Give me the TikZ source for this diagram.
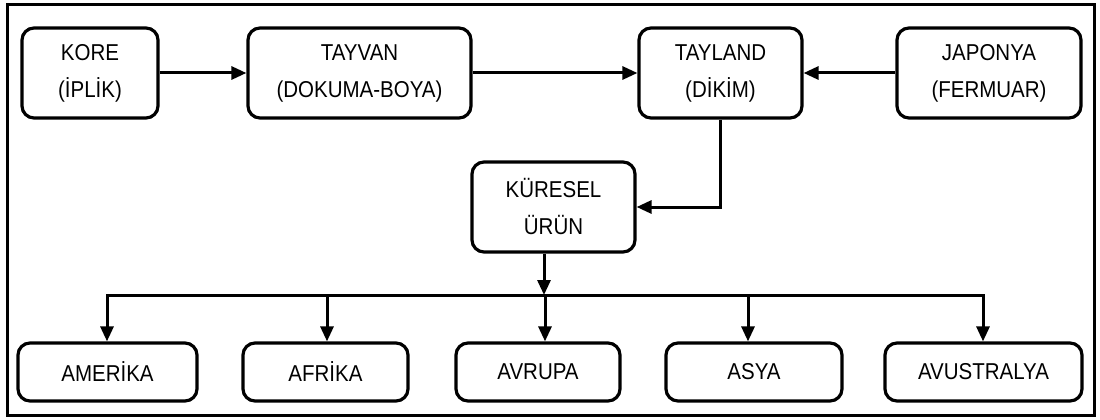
\documentclass[tikz,border=0pt]{standalone}
\usepackage{fontspec}
\usepackage{graphicx}
\setmainfont{Liberation Sans}
\usetikzlibrary{arrows.meta,calc}
\newcommand\tx[1]{\scalebox{1}[1.12]{#1}}
\begin{document}
\begin{tikzpicture}[x=1pt,y=-1pt,
  box/.style={draw,line width=3.2pt,rounded corners=12pt,align=center,inner sep=0pt,
    font=\fontsize{20.5}{37}\selectfont},
  conn/.style={line width=3pt},
  arr/.style={conn,-{Triangle[length=15pt,width=13pt]}}]
\useasboundingbox (0,0) rectangle (1100,420);
\draw[line width=3pt] (7,5) rectangle (1094,415);
% top row
\node[box,minimum width=136pt,minimum height=90pt] (kore) at (90,73) {\tx{KORE}\\\tx{(İPLİK)}};
\node[box,minimum width=223pt,minimum height=90pt] (tayvan) at (359.5,73) {\tx{TAYVAN}\\\tx{(DOKUMA-BOYA)}};
\node[box,minimum width=163pt,minimum height=90pt] (tayland) at (720.5,73) {\tx{TAYLAND}\\\tx{(DİKİM)}};
\node[box,minimum width=184pt,minimum height=90pt] (japonya) at (989,73) {\tx{JAPONYA}\\\tx{(FERMUAR)}};
\node[box,minimum width=163pt,minimum height=90pt] (kuresel) at (553.5,207) {\tx{KÜRESEL}\\\tx{ÜRÜN}};
% bottom row
\node[box,minimum width=179pt,minimum height=58pt] (amerika) at (107.5,372) {\tx{AMERİKA}};
\node[box,minimum width=165pt,minimum height=58pt] (afrika) at (325.5,372) {\tx{AFRİKA}};
\node[box,minimum width=164pt,minimum height=58pt] (avrupa) at (538,372) {\tx{AVRUPA}};
\node[box,minimum width=176pt,minimum height=58pt] (asya) at (754,372) {\tx{ASYA}};
\node[box,minimum width=197pt,minimum height=58pt] (avustralya) at (983.5,372) {\tx{AVUSTRALYA}};
% bus coordinates
\coordinate (bus) at (544,295);
\coordinate (d1) at (107,295);
\coordinate (d2) at (327,295);
\coordinate (d3) at (545,295);
\coordinate (d4) at (748,295);
\coordinate (d5) at (983,295);
% connectors
\draw[arr] (kore.east) -- (tayvan.west);
\draw[arr] (tayvan.east) -- (tayland.west);
\draw[arr] (japonya.west) -- (tayland.east);
\draw[arr] (tayland.south) |- (kuresel.east);
\draw[arr] (kuresel.south -| bus) -- (bus);
\draw[conn,line cap=rect] (d1) -- (d5);
\foreach \d/\b in {d1/amerika,d2/afrika,d3/avrupa,d4/asya,d5/avustralya}
  \draw[arr] (\d) -- (\d |- \b.north);
\end{tikzpicture}
\end{document}
